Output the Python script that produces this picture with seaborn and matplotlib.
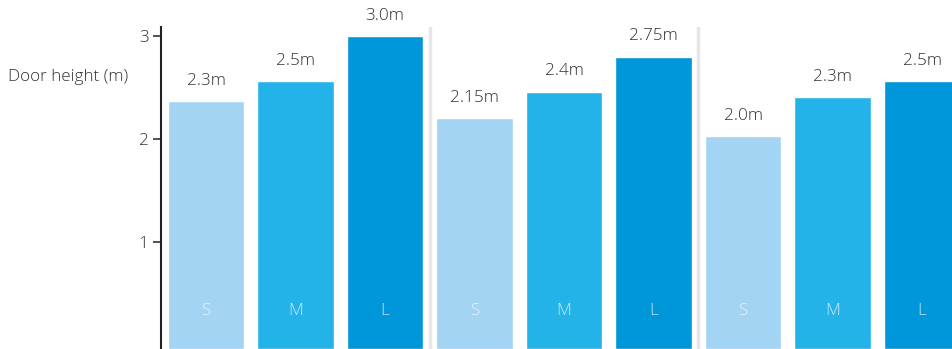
import matplotlib
matplotlib.use("Agg")
import matplotlib.pyplot as plt
import pandas as pd
import seaborn as sns

# three door groups, each with S / M / L
sizes = ["S", "M", "L", "S", "M", "L", "S", "M", "L"]
# bar heights as drawn in the picture (axis units)
heights = [2.37, 2.56, 3.0, 2.2, 2.46, 2.8, 2.03, 2.41, 2.56]
# value labels printed above the bars
value_labels = ["2.3m", "2.5m", "3.0m", "2.15m", "2.4m", "2.75m", "2.0m", "2.3m", "2.5m"]
y_ticks = [1, 2, 3]
size_colors = {"S": "#a3d4f3", "M": "#23b3e8", "L": "#0096da"}

sns.set_style("white")
plt.rcParams["font.family"] = ["Open Sans", "DejaVu Sans"]
plt.rcParams["font.weight"] = 300

df = pd.DataFrame({"slot": range(len(sizes)), "size": sizes, "height": heights})

fig = plt.figure(figsize=(9.52, 3.49), dpi=100)
W, H = 952, 349
ax = fig.add_axes([161 / W, 0, (W - 161) / W, (H - 27) / H])

sns.barplot(data=df, x="slot", y="height", hue="size", palette=size_colors,
            dodge=False, width=0.85, legend=False, ax=ax, saturation=1)

y_bottom, y_top = -0.04, 3.087
ax.set_ylim(y_bottom, y_top)
ax.set_xlim(-0.503, 8.335)

# bars reach the bottom edge of the chart
for p in ax.patches:
    top = p.get_y() + p.get_height()
    p.set_y(y_bottom)
    p.set_height(top - y_bottom)

# group separators
for xs in [2.5, 5.5]:
    ax.axvline(xs, color="#e6e6e6", lw=2.5, zorder=0)

fs = 12.3
for i, (h, lab, s) in enumerate(zip(heights, value_labels, sizes)):
    ax.annotate(lab, (i, h), xytext=(0, 14.5), textcoords="offset points",
                ha="center", va="center", fontsize=fs, color="#333333")
    ax.text(i, 0.33, s, ha="center", va="center", fontsize=fs,
            color="white", alpha=0.75)

ax.set_yticks(y_ticks)
ax.set_yticklabels([str(t) for t in y_ticks], fontsize=fs, color="#333333")
ax.tick_params(axis="y", length=6, width=1.2, color="#333333", pad=3, left=True)
ax.set_xticks([])
ax.set_xlabel("")
ax.set_ylabel("")
for side in ["top", "right", "bottom"]:
    ax.spines[side].set_visible(False)
ax.spines["left"].set_color("#222222")
ax.spines["left"].set_linewidth(1.5)

fig.text(8 / W, 1 - 77 / H, "Door height (m)", ha="left", va="center",
         fontsize=fs, color="#333333")

fig.savefig("out.png", dpi=100)
